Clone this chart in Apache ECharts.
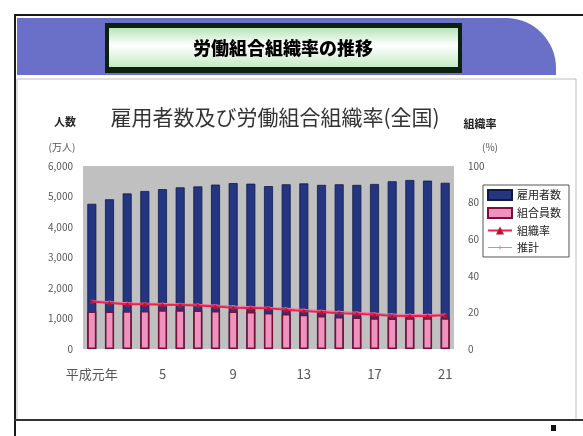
<!DOCTYPE html>
<html>
<head>
<meta charset="utf-8">
<script src="https://cdn.jsdelivr.net/npm/echarts@6/dist/echarts.min.js"></script>
<style>
  html, body { margin: 0; padding: 0; background: #ffffff; }
  #chart { width: 583px; height: 436px; }
</style>
</head>
<body>
<div id="chart"></div>
<script>
// 年次（平成元年〜21年）
const years = ['平成元年', '2', '3', '4', '5', '6', '7', '8', '9', '10', '11',
  '12', '13', '14', '15', '16', '17', '18', '19', '20', '21'];
// 雇用者数（万人）
const employees = [4760, 4910, 5100, 5180, 5240, 5300, 5330, 5390, 5440, 5420, 5340,
  5400, 5430, 5380, 5400, 5380, 5410, 5500, 5540, 5520, 5450];
// 組合員数（万人）
const members = [1230, 1230, 1240, 1250, 1270, 1270, 1260, 1250, 1230, 1210, 1180,
  1150, 1120, 1080, 1050, 1030, 1010, 1000, 1010, 1010, 1010];
// 組織率（%）
const rate = [25.9, 25.2, 24.5, 24.4, 24.2, 24.1, 23.8, 23.2, 22.6, 22.4, 22.2,
  21.5, 20.7, 20.2, 19.6, 19.2, 18.7, 18.2, 18.1, 18.1, 18.5];
// 推計（%）
const estimate = [26.4, 25.9, 25.3, 25.0, 24.9, 24.7, 24.4, 24.0, 23.5, 23.1, 22.8,
  22.3, 21.6, 21.0, 20.5, 20.1, 19.6, 19.1, 18.9, 18.8, 19.0];
// 目盛
const leftTicks = { min: 0, max: 6000, interval: 1000 };
const rightTicks = { min: 0, max: 100, interval: 20 };

const FONT = '"Noto Sans CJK JP", "Noto Sans", sans-serif';
const chart = echarts.init(document.getElementById('chart'), null, { renderer: 'canvas' });

chart.setOption({
  backgroundColor: '#ffffff',
  animation: false,
  textStyle: { fontFamily: FONT },
  graphic: [
    // 外枠
    { type: 'rect', z: 0, shape: { x: 17, y: 79, width: 559, height: 341 },
      style: { fill: 'transparent', stroke: '#bdbdbd', lineWidth: 1 } },
    { type: 'line', z: 5, shape: { x1: 15, y1: 14, x2: 15, y2: 436 },
      style: { stroke: '#1a1a1a', lineWidth: 2 } },
    { type: 'line', z: 5, shape: { x1: 14, y1: 15, x2: 583, y2: 15 },
      style: { stroke: '#1a1a1a', lineWidth: 2 } },
    { type: 'line', z: 5, shape: { x1: 14, y1: 420, x2: 583, y2: 420 },
      style: { stroke: '#333333', lineWidth: 2 } },
    { type: 'rect', z: 5, shape: { x: 551, y: 425, width: 5, height: 6 },
      style: { fill: '#111111' } },
    // 見出し帯
    { type: 'rect', z: 1, shape: { x: 17, y: 18, width: 539, height: 57, r: [0, 50, 0, 0] },
      style: { fill: '#6a70c8' } },
    { type: 'rect', z: 2, shape: { x: 105, y: 23, width: 357, height: 50 },
      style: { fill: '#0c220c' } },
    { type: 'rect', z: 3, shape: { x: 109, y: 28, width: 349, height: 39 },
      style: { fill: {
        type: 'linear', x: 0, y: 0, x2: 0, y2: 1,
        colorStops: [
          { offset: 0, color: '#b8e4b8' },
          { offset: 0.45, color: '#ffffff' },
          { offset: 1, color: '#c4eac4' }
        ] } } },
    { type: 'text', z: 4, x: 283, y: 48,
      style: { text: '労働組合組織率の推移', fill: '#000000', font: '900 18px ' + FONT,
        textAlign: 'center', textVerticalAlign: 'middle' } },
    // グラフ見出しと軸名
    { type: 'text', z: 4, x: 275, y: 117,
      style: { text: '雇用者数及び労働組合組織率(全国)', fill: '#333333', font: '21px ' + FONT,
        textAlign: 'center', textVerticalAlign: 'middle' } },
    { type: 'text', z: 4, x: 65, y: 122,
      style: { text: '人数', fill: '#222222', font: 'bold 11px ' + FONT,
        textAlign: 'center', textVerticalAlign: 'middle' } },
    { type: 'text', z: 4, x: 480, y: 124,
      style: { text: '組織率', fill: '#222222', font: 'bold 11px ' + FONT,
        textAlign: 'center', textVerticalAlign: 'middle' } },
    { type: 'text', z: 4, x: 62, y: 147,
      style: { text: '(万人)', fill: '#555555', font: '10px ' + FONT,
        textAlign: 'center', textVerticalAlign: 'middle' } },
    { type: 'text', z: 4, x: 490, y: 147,
      style: { text: '(%)', fill: '#555555', font: '10px ' + FONT,
        textAlign: 'center', textVerticalAlign: 'middle' } }
  ],
  legend: {
    left: 483, top: 185, orient: 'vertical',
    backgroundColor: '#ffffff', borderColor: '#555555', borderWidth: 1,
    padding: [4, 8, 4, 4], itemGap: 6, itemWidth: 24, itemHeight: 10,
    textStyle: { fontSize: 11, color: '#222222', fontFamily: FONT },
    data: [
      { name: '雇用者数', icon: 'rect' },
      { name: '組合員数', icon: 'rect' },
      { name: '組織率' },
      { name: '推計', icon: 'path://M0,4.5 L24,4.5 L24,5.5 L0,5.5 Z M11.5,3 L12.5,3 L12.5,7 L11.5,7 Z' }
    ]
  },
  grid: {
    left: 83, right: 129, top: 166, bottom: 87, z: 1,
    show: true, backgroundColor: '#c0c0c0', borderWidth: 0
  },
  xAxis: {
    type: 'category', data: years,
    axisLine: { show: false }, axisTick: { show: false },
    axisLabel: { interval: 3, margin: 19, fontSize: 13, color: '#555555', fontFamily: FONT }
  },
  yAxis: [
    { type: 'value', min: leftTicks.min, max: leftTicks.max, interval: leftTicks.interval,
      splitLine: { show: false }, axisLine: { show: false }, axisTick: { show: false },
      axisLabel: { margin: 10, fontSize: 10, color: '#555555',
        formatter: v => v.toLocaleString('en-US') } },
    { type: 'value', min: rightTicks.min, max: rightTicks.max, interval: rightTicks.interval,
      splitLine: { show: false }, axisLine: { show: false }, axisTick: { show: false },
      axisLabel: { margin: 14, fontSize: 10, color: '#555555' } }
  ],
  series: [
    { name: '雇用者数', type: 'bar', data: employees, barWidth: 9, barGap: '-100%', z: 3,
      itemStyle: { color: '#243681', borderColor: '#101a44', borderWidth: 0.8 } },
    { name: '組合員数', type: 'bar', data: members, barWidth: 9, z: 3,
      itemStyle: { color: '#ee93bd', borderColor: '#7a1038', borderWidth: 1.5 } },
    { name: '推計', type: 'line', yAxisIndex: 1, data: estimate, z: 4,
      symbol: 'rect', symbolSize: 2,
      lineStyle: { color: '#ff70a8', width: 1 }, itemStyle: { color: '#ff70a8' } },
    { name: '組織率', type: 'line', yAxisIndex: 1, data: rate, z: 5,
      symbol: 'triangle', symbolSize: 5,
      lineStyle: { color: '#f0204a', width: 2 }, itemStyle: { color: '#c0102e' } }
  ]
});
</script>
</body>
</html>
